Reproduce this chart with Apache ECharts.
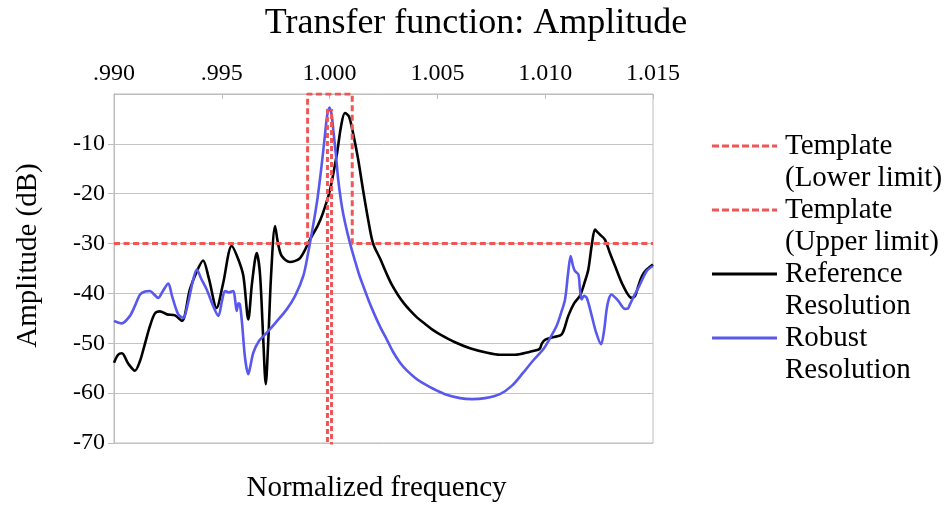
<!DOCTYPE html>
<html>
<head>
<meta charset="utf-8">
<script src="https://cdn.jsdelivr.net/npm/echarts@6/dist/echarts.min.js"></script>
<style>html,body{margin:0;padding:0;background:#fff}#c{width:952px;height:508px}</style>
</head>
<body>
<div id="c"></div>
<script>
// ---- data ----
const xTicks = [0.990, 0.995, 1.000, 1.005, 1.010, 1.015];
const yTicks = [-70, -60, -50, -40, -30, -20, -10];

const templateLowerX = [0.99000, 0.99898, 0.99898, 1.00105, 1.00105, 1.01500];
const templateLowerY = [-30, -30, 0, 0, -30, -30];

const templateUpperX = [0.99990, 0.99990, 1.00009, 1.00009];
const templateUpperY = [-3, -75, -75, -3];

const refX = [0.99000,0.99019,0.99037,0.99065,0.99097,0.99121,0.99139,0.99167,0.99190,0.99213,0.99246,0.99283,0.99315,0.99352,0.99385,0.99413,0.99440,0.99476,0.99506,0.99546,0.99575,0.99600,0.99623,0.99640,0.99662,0.99677,0.99691,0.99704,0.99715,0.99729,0.99747,0.99761,0.99778,0.99816,0.99863,0.99909,0.99946,0.99969,1.00002,1.00034,1.00053,1.00071,1.00090,1.00109,1.00132,1.00155,1.00178,1.00201,1.00234,1.00266,1.00289,1.00317,1.00345,1.00373,1.00405,1.00442,1.00475,1.00512,1.00582,1.00651,1.00721,1.00790,1.00860,1.00930,1.00967,1.00976,1.00985,1.00999,1.01036,1.01077,1.01107,1.01134,1.01161,1.01185,1.01200,1.01217,1.01231,1.01245,1.01254,1.01277,1.01301,1.01324,1.01362,1.01401,1.01417,1.01432,1.01449,1.01471,1.01500];
const refY = [-53.9,-52.3,-52.0,-54.0,-55.5,-53.5,-50.8,-46.5,-44.0,-43.6,-44.2,-44.4,-45.5,-39.2,-35.5,-33.4,-37.0,-42.9,-38.0,-30.5,-33.0,-36.5,-45.2,-38.0,-31.9,-36.0,-48.0,-58.2,-50.0,-36.0,-26.5,-30.0,-32.5,-33.7,-32.9,-29.2,-26.3,-23.9,-19.2,-12.0,-6.5,-3.8,-4.5,-7.9,-13.0,-19.2,-25.0,-29.9,-33.0,-36.2,-38.3,-40.3,-42.0,-43.4,-44.8,-46.1,-47.2,-48.2,-49.8,-51.0,-51.8,-52.3,-52.3,-51.7,-51.3,-51.0,-50.0,-49.3,-48.8,-48.2,-44.5,-42.0,-40.5,-37.5,-35.2,-30.0,-27.2,-27.8,-28.2,-29.2,-32.0,-34.5,-38.5,-40.9,-40.5,-38.5,-36.5,-35.2,-34.2];

const robX = [0.99000,0.99036,0.99074,0.99097,0.99121,0.99144,0.99167,0.99186,0.99205,0.99227,0.99252,0.99269,0.99298,0.99321,0.99343,0.99366,0.99384,0.99404,0.99430,0.99455,0.99484,0.99501,0.99515,0.99533,0.99553,0.99561,0.99569,0.99577,0.99584,0.99594,0.99608,0.99623,0.99633,0.99646,0.99673,0.99708,0.99751,0.99801,0.99840,0.99878,0.99900,0.99923,0.99942,0.99955,0.99969,0.99979,0.99988,0.99999,1.00009,1.00017,1.00030,1.00040,1.00058,1.00079,1.00099,1.00118,1.00136,1.00156,1.00183,1.00211,1.00238,1.00265,1.00294,1.00327,1.00359,1.00396,1.00429,1.00466,1.00498,1.00535,1.00605,1.00661,1.00721,1.00790,1.00846,1.00898,1.00943,1.00991,1.01022,1.01053,1.01073,1.01092,1.01106,1.01118,1.01129,1.01138,1.01154,1.01161,1.01169,1.01180,1.01193,1.01216,1.01236,1.01259,1.01273,1.01285,1.01296,1.01308,1.01324,1.01339,1.01370,1.01384,1.01393,1.01412,1.01432,1.01471,1.01500];
const robY = [-45.5,-46.0,-44.5,-42.5,-40.2,-39.6,-39.5,-40.2,-40.9,-39.5,-38.0,-40.5,-44.2,-44.9,-42.0,-37.5,-35.2,-37.0,-39.2,-42.0,-44.5,-41.5,-39.5,-39.8,-39.5,-41.0,-43.5,-42.0,-42.2,-46.0,-53.0,-56.2,-54.5,-51.9,-49.5,-47.9,-45.8,-43.2,-40.5,-36.5,-32.0,-26.5,-21.5,-17.2,-12.0,-8.0,-4.5,-2.7,-4.0,-7.2,-12.5,-17.2,-22.8,-27.2,-30.6,-33.5,-36.1,-38.5,-41.6,-44.5,-47.0,-49.2,-51.7,-53.9,-55.5,-56.9,-57.9,-58.8,-59.5,-60.2,-61.0,-61.2,-61.0,-60.2,-58.5,-55.9,-53.5,-51.2,-49.0,-46.5,-44.0,-41.2,-36.0,-32.5,-34.5,-35.5,-36.2,-39.0,-41.2,-40.5,-40.9,-44.5,-47.8,-50.2,-47.5,-43.2,-41.0,-40.2,-40.8,-41.5,-43.1,-43.0,-42.2,-40.5,-38.9,-35.5,-34.5];

const seriesNames = ['Template\n(Lower limit)', 'Template\n(Upper limit)', 'Reference\nResolution', 'Robust\nResolution'];
// ---- end data ----

const pair = (xs, ys) => xs.map((x, i) => [x, ys[i]]);
const RED = '#f05656', BLUE = '#5858ee', BLACK = '#000000';
const FONT = '"Liberation Serif", "DejaVu Serif", serif';

const dashedIcon = 'path://M0,0h7v3h-7z M10,0h7v3h-7z M20,0h7v3h-7z M30,0h7v3h-7z M40,0h7v3h-7z M50,0h7v3h-7z M60,0h5v3h-5z M0,35h0.01v0.01h-0.01z';
const solidIcon = 'path://M0,0h65v3h-65z M0,35h0.01v0.01h-0.01z';

const chart = echarts.init(document.getElementById('c'), null, {renderer: 'canvas'});
chart.setOption({
  animation: false,
  backgroundColor: '#fff',
  title: {
    text: 'Transfer function: Amplitude',
    left: 'center', top: 1,
    textStyle: {fontFamily: FONT, fontWeight: 'normal', fontSize: 36, color: '#000'}
  },
  grid: {left: 114, right: 299, top: 94, bottom: 64, show: true, borderColor: '#bdbdbd', borderWidth: 1, backgroundColor: 'transparent'},
  legend: {
    orient: 'vertical', left: 712, top: 130, itemGap: 0, padding: 0,
    itemWidth: 65, itemHeight: 35, symbolKeepAspect: false,
    textStyle: {fontFamily: FONT, fontSize: 29, lineHeight: 32, color: '#000', padding: [0, 0, 0, 3]},
    data: [
      {name: seriesNames[0], icon: dashedIcon},
      {name: seriesNames[1], icon: dashedIcon},
      {name: seriesNames[2], icon: solidIcon},
      {name: seriesNames[3], icon: solidIcon}
    ],
    selectedMode: false
  },
  xAxis: [{
    type: 'value', position: 'top', min: xTicks[0], max: xTicks[xTicks.length - 1], interval: 0.005,
    axisLine: {show: true, lineStyle: {color: '#bdbdbd'}},
    axisTick: {show: true, inside: true, length: 5, lineStyle: {color: '#bdbdbd'}},
    splitLine: {show: false},
    axisLabel: {
      fontFamily: FONT, fontSize: 24, color: '#000', margin: 8,
      formatter: v => { const s = (Math.round(v * 1000) / 1000).toFixed(3); return v < 1 ? s.slice(1) : s; }
    }
  }, {
    type: 'value', position: 'bottom', min: xTicks[0], max: xTicks[xTicks.length - 1],
    axisLine: {show: false}, axisTick: {show: false}, axisLabel: {show: false}, splitLine: {show: false},
    name: 'Normalized frequency', nameLocation: 'middle', nameGap: 31,
    nameTextStyle: {fontFamily: FONT, fontSize: 29, color: '#000', padding: [0, 14, 0, 0]}
  }],
  yAxis: {
    type: 'value', min: -70, max: 0, interval: 10,
    axisLine: {show: true, lineStyle: {color: '#bdbdbd'}},
    axisTick: {show: true, length: 6, lineStyle: {color: '#bdbdbd'}},
    splitLine: {show: true, lineStyle: {color: '#c4c4c4', width: 1}},
    axisLabel: {fontFamily: FONT, fontSize: 24, color: '#000', margin: 9, showMaxLabel: false,
      formatter: v => yTicks.includes(v) ? String(v) : ''},
    name: 'Amplitude (dB)', nameLocation: 'middle', nameGap: 71, nameRotate: 90,
    nameTextStyle: {fontFamily: FONT, fontSize: 29, color: '#000', padding: [0, 0, 0, 26]}
  },
  series: [
    {name: seriesNames[0], type: 'line', xAxisIndex: 0, data: pair(templateLowerX, templateLowerY), showSymbol: false, symbol: 'none',
      lineStyle: {color: RED, width: 3, type: [6, 3.5]}, itemStyle: {color: RED}, z: 3},
    {name: seriesNames[1], type: 'line', xAxisIndex: 0, data: pair(templateUpperX, templateUpperY), showSymbol: false, symbol: 'none',
      lineStyle: {color: RED, width: 3, type: [5, 3]}, itemStyle: {color: RED}, z: 3},
    {name: seriesNames[2], type: 'line', xAxisIndex: 0, data: pair(refX, refY), showSymbol: false, symbol: 'none', smooth: 0.3,
      lineStyle: {color: BLACK, width: 2.6}, itemStyle: {color: BLACK}, z: 2},
    {name: seriesNames[3], type: 'line', xAxisIndex: 0, data: pair(robX, robY), showSymbol: false, symbol: 'none', smooth: 0.3,
      lineStyle: {color: BLUE, width: 2.6}, itemStyle: {color: BLUE}, z: 2}
  ]
});
</script>
</body>
</html>
